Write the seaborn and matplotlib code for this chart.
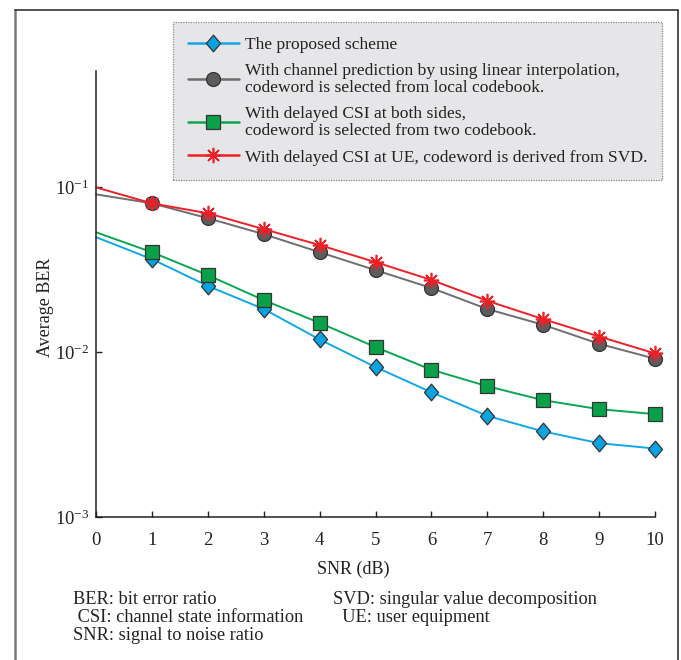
import numpy as np
import pandas as pd
import matplotlib
matplotlib.use("Agg")
import matplotlib.pyplot as plt
from matplotlib.lines import Line2D
from matplotlib.path import Path
import seaborn as sns

# SNR grid (dB) and BER curves for the four precoding schemes
snr_db = [0, 1, 2, 3, 4, 5, 6, 7, 8, 9, 10]
ber_proposed = [0.0496, 0.0365, 0.0251, 0.0182, 0.0119, 0.0081, 0.0057, 0.0041, 0.0033, 0.0028, 0.0026]
ber_interp = [0.0901, 0.0795, 0.0646, 0.0517, 0.0402, 0.0313, 0.0244, 0.0182, 0.0146, 0.0112, 0.0091]
ber_two_cb = [0.0531, 0.0402, 0.0292, 0.0206, 0.0150, 0.0107, 0.0078, 0.0062, 0.0051, 0.0045, 0.0042]
ber_svd = [0.0993, 0.0795, 0.0692, 0.0555, 0.0444, 0.0350, 0.0273, 0.0204, 0.0158, 0.0124, 0.0098]

labels = [
    "The proposed scheme",
    "With channel prediction by using linear interpolation,\ncodeword is selected from local codebook.",
    "With delayed CSI at both sides,\ncodeword is selected from two codebook.",
    "With delayed CSI at UE, codeword is derived from SVD.",
]
notes_left = ["BER: bit error ratio", " CSI: channel state information", "SNR: signal to noise ratio"]
notes_right = ["SVD: singular value decomposition", "  UE: user equipment"]

sns.set_theme(style="ticks")
plt.rcParams["font.family"] = ["Liberation Serif", "DejaVu Serif"]
plt.rcParams["mathtext.fontset"] = "custom"
plt.rcParams["mathtext.rm"] = "Liberation Serif"
plt.rcParams["mathtext.it"] = "Liberation Serif:italic"

TXT = "#222222"
fig = plt.figure(figsize=(6.81, 6.60), dpi=100)
ax = fig.add_axes([96 / 681, 1 - 517 / 660, 559 / 681, 445.5 / 660])

thin_diamond = Path([(0, 1), (0.85, 0), (0, -1), (-0.85, 0), (0, 1)],
                    [Path.MOVETO, Path.LINETO, Path.LINETO, Path.LINETO, Path.CLOSEPOLY])

series = [
    (ber_proposed, "#12a7e6", dict(marker=thin_diamond, markersize=12, markerfacecolor="#09a3e2",
                                    markeredgecolor="#333333", markeredgewidth=0.9)),
    (ber_interp, "#6e6e6e", dict(marker="o", markersize=10, markerfacecolor="#5c5c5e",
                                 markeredgecolor="#333333", markeredgewidth=0.9)),
    (ber_two_cb, "#0aa651", dict(marker="s", markersize=9.5, markerfacecolor="#08a049",
                                 markeredgecolor="#333333", markeredgewidth=0.9)),
    (ber_svd, "#ee2027", dict(marker=(8, 2, 0), markersize=11, markerfacecolor="#ee2027",
                              markeredgecolor="#ee2027", markeredgewidth=1.2)),
]

handles = []
for vals, color, mk in series:
    df = pd.DataFrame({"snr": snr_db, "ber": vals})
    sns.lineplot(data=df, x="snr", y="ber", ax=ax, color=color, linewidth=1.4,
                 markevery=list(range(1, len(snr_db))), clip_on=False, **mk)
    handles.append(Line2D([], [], color=color, linewidth=1.8, **mk))

ax.set_yscale("log")
ax.set_xlim(0, 10)
ax.set_ylim(1e-3, 0.5)
ax.set_xticks(snr_db)
ax.set_yticks([1e-3, 1e-2, 1e-1])
ax.yaxis.set_minor_locator(matplotlib.ticker.NullLocator())
ax.tick_params(axis="both", which="major", direction="in", length=4, width=1.0,
               labelsize=13.5, colors=TXT)
ax.tick_params(axis="x", pad=11)
ax.tick_params(axis="y", pad=5)
for side in ("top", "right"):
    ax.spines[side].set_visible(False)
for side in ("left", "bottom"):
    ax.spines[side].set_linewidth(1.1)
    ax.spines[side].set_color(TXT)

ax.set_xlabel("SNR (dB)", fontsize=13, color=TXT)
ax.set_ylabel("Average BER", fontsize=13, color=TXT)
ax.xaxis.set_label_coords(0.46, -0.099)
ax.yaxis.set_label_coords(-0.075, 0.47)

leg = fig.legend(handles, labels, loc="upper left", bbox_to_anchor=(173 / 681, 1 - 21.5 / 660),
                 fontsize=12.6, handlelength=2.9, handletextpad=0.35, borderpad=0.85,
                 labelspacing=0.6, fancybox=False, framealpha=1, borderaxespad=0)
frame = leg.get_frame()
frame.set_facecolor("#e6e6e8")
frame.set_edgecolor("#8a8a8a")
frame.set_linestyle((0, (1, 1)))
frame.set_linewidth(0.9)
for t in leg.get_texts():
    t.set_color(TXT)
    t.set_linespacing(1.05)

# notes below the plot
for i, s in enumerate(notes_left):
    fig.text(73 / 681, 1 - (600 + 18 * i) / 660, s, fontsize=13.2, va="center", ha="left", color=TXT)
for i, s in enumerate(notes_right):
    fig.text(333 / 681, 1 - (600 + 18 * i) / 660, s, fontsize=13.2, va="center", ha="left", color=TXT)

# surrounding frame
fig.add_artist(Line2D([14.7 / 681, 14.7 / 681], [0, 1 - 10 / 660], transform=fig.transFigure,
                      color="#7a7a7a", linewidth=1.8))
fig.add_artist(Line2D([14.7 / 681, 678 / 681], [1 - 10 / 660, 1 - 10 / 660], transform=fig.transFigure,
                      color="#333333", linewidth=1.2))
fig.add_artist(Line2D([678 / 681, 678 / 681], [0, 1 - 10 / 660], transform=fig.transFigure,
                      color="#333333", linewidth=1.2))

fig.savefig("out.png", dpi=100)
